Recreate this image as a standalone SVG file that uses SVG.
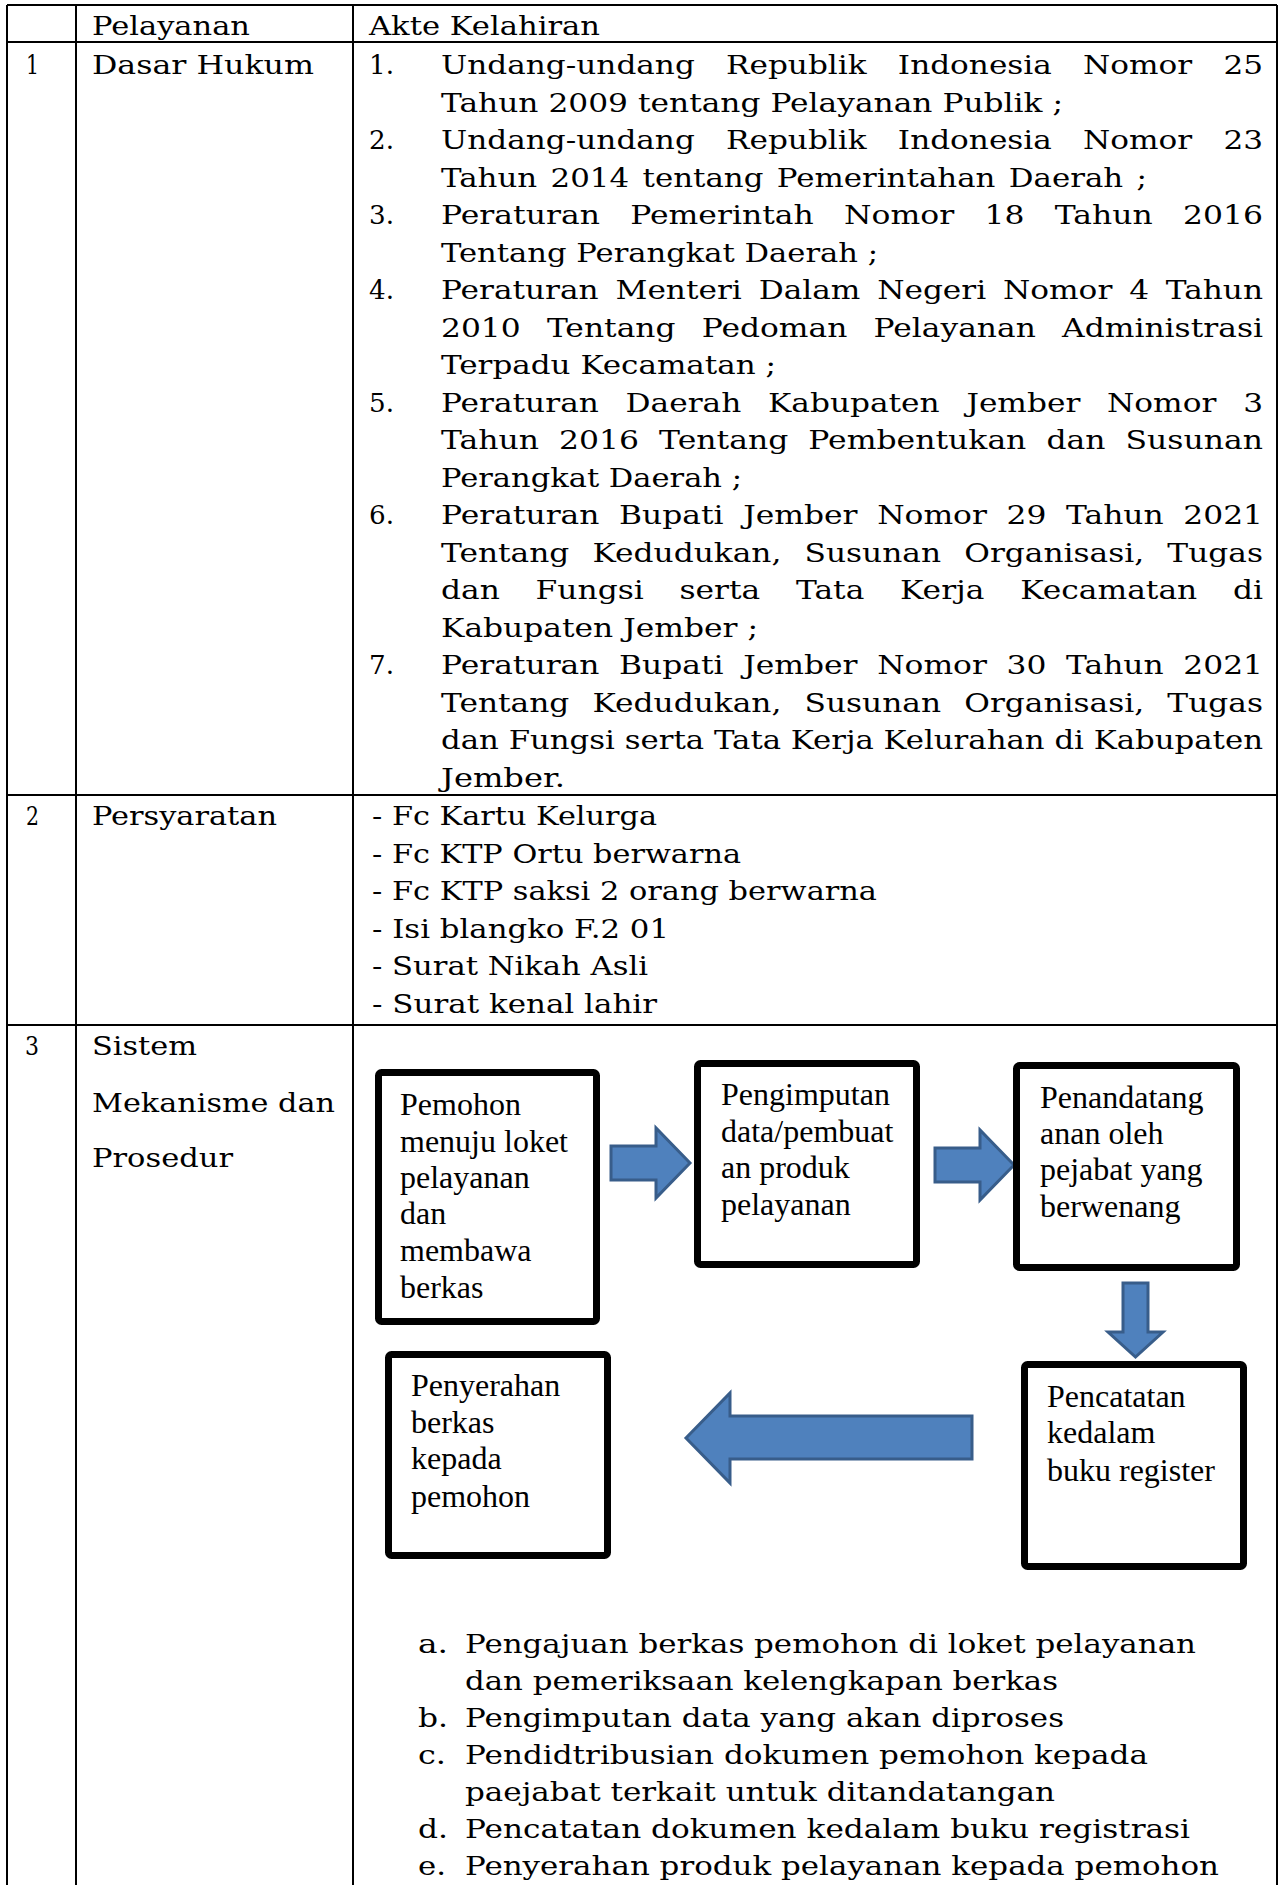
<svg xmlns="http://www.w3.org/2000/svg" width="1278" height="1885" viewBox="0 0 1278 1885">
<style>
.t{font-family:"DejaVu Serif","Liberation Serif",serif;font-size:26px;fill:#000}
.b{font-family:"Liberation Serif","Times New Roman",serif;font-size:32px;fill:#000}
.grid{stroke:#000;stroke-width:2;fill:none}
.box{fill:#fff;stroke:#000;stroke-width:7}
.arr{fill:#4F81BD;stroke:#385D8A;stroke-width:3;stroke-linejoin:miter}
</style>
<rect x="0" y="0" width="1278" height="1885" fill="#fff"/>
<g id="table-grid" class="grid">
<line x1="7" y1="5" x2="1277" y2="5"/>
<line x1="7" y1="42" x2="1277" y2="42"/>
<line x1="7" y1="795" x2="1277" y2="795"/>
<line x1="7" y1="1025" x2="1277" y2="1025"/>
<line x1="7" y1="5" x2="7" y2="1885"/>
<line x1="76" y1="5" x2="76" y2="1885"/>
<line x1="353" y1="5" x2="353" y2="1885"/>
<line x1="1277" y1="5" x2="1277" y2="1885"/>
</g>
<g id="header" class="t">
<text x="92" y="35" textLength="158" lengthAdjust="spacingAndGlyphs">Pelayanan</text>
<text x="369" y="35" textLength="231" lengthAdjust="spacingAndGlyphs">Akte Kelahiran</text>
</g>
<g id="row1" class="t">
<text x="26" y="74" textLength="13" lengthAdjust="spacingAndGlyphs">1</text>
<text x="92" y="74" textLength="222" lengthAdjust="spacingAndGlyphs">Dasar Hukum</text>
<text x="369" y="74" textLength="25" lengthAdjust="spacingAndGlyphs">1.</text>
<text x="441" y="74" textLength="822" lengthAdjust="spacingAndGlyphs" style="word-spacing:17.8px">Undang-undang Republik Indonesia Nomor 25</text>
<text x="441" y="111.5" textLength="622" lengthAdjust="spacingAndGlyphs">Tahun 2009 tentang Pelayanan Publik ;</text>
<text x="369" y="149" textLength="25" lengthAdjust="spacingAndGlyphs">2.</text>
<text x="441" y="149" textLength="822" lengthAdjust="spacingAndGlyphs" style="word-spacing:17.8px">Undang-undang Republik Indonesia Nomor 23</text>
<text x="441" y="186.5" textLength="706" lengthAdjust="spacingAndGlyphs" style="word-spacing:3px">Tahun 2014  tentang Pemerintahan Daerah ;</text>
<text x="369" y="224" textLength="25" lengthAdjust="spacingAndGlyphs">3.</text>
<text x="441" y="224" textLength="822" lengthAdjust="spacingAndGlyphs" style="word-spacing:16.8px">Peraturan Pemerintah Nomor 18 Tahun 2016</text>
<text x="441" y="261.5" textLength="437" lengthAdjust="spacingAndGlyphs">Tentang Perangkat Daerah ;</text>
<text x="369" y="299" textLength="25" lengthAdjust="spacingAndGlyphs">4.</text>
<text x="441" y="299" textLength="822" lengthAdjust="spacingAndGlyphs" style="word-spacing:5.8px">Peraturan Menteri Dalam Negeri Nomor 4 Tahun</text>
<text x="441" y="336.5" textLength="822" lengthAdjust="spacingAndGlyphs" style="word-spacing:13.5px">2010 Tentang Pedoman Pelayanan Administrasi</text>
<text x="441" y="374" textLength="335" lengthAdjust="spacingAndGlyphs">Terpadu Kecamatan ;</text>
<text x="369" y="411.5" textLength="25" lengthAdjust="spacingAndGlyphs">5.</text>
<text x="441" y="411.5" textLength="822" lengthAdjust="spacingAndGlyphs" style="word-spacing:14px">Peraturan Daerah Kabupaten Jember Nomor 3</text>
<text x="441" y="449" textLength="822" lengthAdjust="spacingAndGlyphs" style="word-spacing:8.3px">Tahun 2016 Tentang Pembentukan dan Susunan</text>
<text x="441" y="486.5" textLength="301" lengthAdjust="spacingAndGlyphs">Perangkat Daerah ;</text>
<text x="369" y="524" textLength="25" lengthAdjust="spacingAndGlyphs">6.</text>
<text x="441" y="524" textLength="822" lengthAdjust="spacingAndGlyphs" style="word-spacing:8px">Peraturan Bupati Jember Nomor 29 Tahun 2021</text>
<text x="441" y="561.5" textLength="822" lengthAdjust="spacingAndGlyphs" style="word-spacing:11px">Tentang Kedudukan, Susunan Organisasi, Tugas</text>
<text x="441" y="599" textLength="822" lengthAdjust="spacingAndGlyphs" style="word-spacing:21.4px">dan Fungsi serta Tata Kerja Kecamatan di</text>
<text x="441" y="636.5" textLength="317" lengthAdjust="spacingAndGlyphs">Kabupaten Jember ;</text>
<text x="369" y="674" textLength="25" lengthAdjust="spacingAndGlyphs">7.</text>
<text x="441" y="674" textLength="822" lengthAdjust="spacingAndGlyphs" style="word-spacing:8px">Peraturan Bupati Jember Nomor 30 Tahun 2021</text>
<text x="441" y="711.5" textLength="822" lengthAdjust="spacingAndGlyphs" style="word-spacing:11px">Tentang Kedudukan, Susunan Organisasi, Tugas</text>
<text x="441" y="749" textLength="822" lengthAdjust="spacingAndGlyphs">dan Fungsi serta Tata Kerja Kelurahan di Kabupaten</text>
<text x="441" y="786.5" textLength="124" lengthAdjust="spacingAndGlyphs">Jember.</text>
</g>
<g id="row2" class="t">
<text x="26" y="825" textLength="13" lengthAdjust="spacingAndGlyphs">2</text>
<text x="92" y="825" textLength="185" lengthAdjust="spacingAndGlyphs">Persyaratan</text>
<text x="372" y="825" textLength="285" lengthAdjust="spacingAndGlyphs">- Fc Kartu Kelurga</text>
<text x="372" y="862.5" textLength="369" lengthAdjust="spacingAndGlyphs">- Fc KTP Ortu berwarna</text>
<text x="372" y="900" textLength="505" lengthAdjust="spacingAndGlyphs">- Fc KTP saksi 2 orang berwarna</text>
<text x="372" y="937.5" textLength="297" lengthAdjust="spacingAndGlyphs">- Isi blangko F.2 01</text>
<text x="372" y="975" textLength="276" lengthAdjust="spacingAndGlyphs">- Surat Nikah Asli</text>
<text x="372" y="1012.5" textLength="285" lengthAdjust="spacingAndGlyphs">- Surat kenal lahir</text>
</g>
<g id="row3" class="t">
<text x="25" y="1055" textLength="14" lengthAdjust="spacingAndGlyphs">3</text>
<text x="92" y="1055" textLength="105" lengthAdjust="spacingAndGlyphs">Sistem</text>
<text x="92" y="1112" textLength="243" lengthAdjust="spacingAndGlyphs">Mekanisme dan</text>
<text x="92" y="1167" textLength="141" lengthAdjust="spacingAndGlyphs">Prosedur</text>
</g>
<g id="connectors">
<path class="arr" d="M611,1146 L656,1146 L656,1128 L690,1163 L656,1198 L656,1180 L611,1180 Z"/>
<path class="arr" d="M935,1148 L980,1148 L980,1130 L1014,1165 L980,1200 L980,1182 L935,1182 Z"/>
<path class="arr" d="M1123,1283 L1148,1283 L1148,1332 L1163,1332 L1135.5,1357 L1108,1332 L1123,1332 Z"/>
<path class="arr" d="M972,1416 L730,1416 L730,1393 L686,1438 L730,1483 L730,1459 L972,1459 Z"/>
</g>
<g id="node-pemohon">
<rect class="box" x="378.5" y="1072.5" width="218" height="249" rx="3"/>
<text class="b" x="400" y="1115">Pemohon</text>
<text class="b" x="400" y="1152">menuju loket</text>
<text class="b" x="400" y="1188">pelayanan</text>
<text class="b" x="400" y="1224">dan</text>
<text class="b" x="400" y="1261">membawa</text>
<text class="b" x="400" y="1298">berkas</text>
</g>
<g id="node-pengimputan">
<rect class="box" x="697.5" y="1063.5" width="219" height="201" rx="3"/>
<text class="b" x="721" y="1105">Pengimputan</text>
<text class="b" x="721" y="1142">data/pembuat</text>
<text class="b" x="721" y="1178">an produk</text>
<text class="b" x="721" y="1215">pelayanan</text>
</g>
<g id="node-penandatanganan">
<rect class="box" x="1016.5" y="1065.5" width="220" height="202" rx="3"/>
<text class="b" x="1040" y="1108">Penandatang</text>
<text class="b" x="1040" y="1144">anan oleh</text>
<text class="b" x="1040" y="1180">pejabat yang</text>
<text class="b" x="1040" y="1217">berwenang</text>
</g>
<g id="node-pencatatan">
<rect class="box" x="1024.5" y="1364.5" width="219" height="202" rx="3"/>
<text class="b" x="1047" y="1407">Pencatatan</text>
<text class="b" x="1047" y="1443">kedalam</text>
<text class="b" x="1047" y="1481">buku register</text>
</g>
<g id="node-penyerahan">
<rect class="box" x="388.5" y="1354.5" width="219" height="201" rx="3"/>
<text class="b" x="411" y="1396">Penyerahan</text>
<text class="b" x="411" y="1433">berkas</text>
<text class="b" x="411" y="1469">kepada</text>
<text class="b" x="411" y="1507">pemohon</text>
</g>
<g id="steps" class="t">
<text x="418" y="1653" textLength="30" lengthAdjust="spacingAndGlyphs">a.</text>
<text x="465" y="1653" textLength="731" lengthAdjust="spacingAndGlyphs">Pengajuan berkas pemohon di loket pelayanan</text>
<text x="465" y="1690" textLength="593" lengthAdjust="spacingAndGlyphs">dan pemeriksaan kelengkapan berkas</text>
<text x="418" y="1727" textLength="30" lengthAdjust="spacingAndGlyphs">b.</text>
<text x="465" y="1727" textLength="599" lengthAdjust="spacingAndGlyphs">Pengimputan data yang akan diproses</text>
<text x="418" y="1764" textLength="28" lengthAdjust="spacingAndGlyphs">c.</text>
<text x="465" y="1764" textLength="683" lengthAdjust="spacingAndGlyphs">Pendidtribusian dokumen pemohon kepada</text>
<text x="465" y="1801" textLength="590" lengthAdjust="spacingAndGlyphs">paejabat terkait untuk ditandatangan</text>
<text x="418" y="1838" textLength="30" lengthAdjust="spacingAndGlyphs">d.</text>
<text x="465" y="1838" textLength="725" lengthAdjust="spacingAndGlyphs">Pencatatan dokumen kedalam buku registrasi</text>
<text x="418" y="1875" textLength="28" lengthAdjust="spacingAndGlyphs">e.</text>
<text x="465" y="1875" textLength="754" lengthAdjust="spacingAndGlyphs">Penyerahan produk pelayanan kepada pemohon</text>
</g>
</svg>
